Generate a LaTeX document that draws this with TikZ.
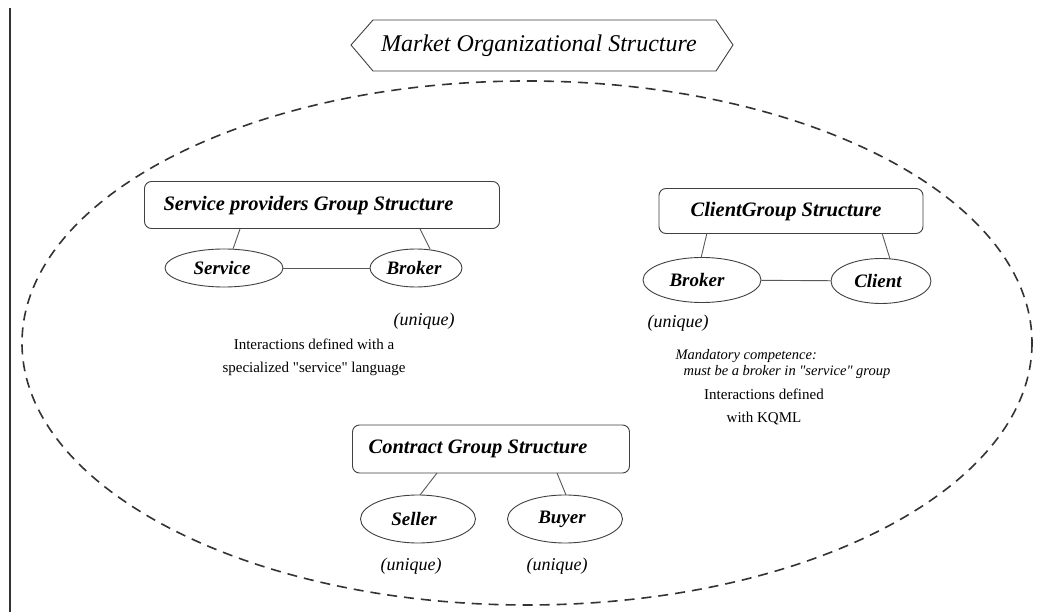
\documentclass[tikz,border=0pt]{standalone}
\usepackage{fontspec}
\setmainfont{Liberation Serif}
\usetikzlibrary{shapes.geometric}
\begin{document}
\begin{tikzpicture}[x=1pt,y=-1pt,
  grpbox/.style={draw=black!75,line width=0.9pt,rounded corners=7pt,fill=white,inner sep=0pt},
  role/.style={draw=black!75,line width=0.9pt,ellipse,inner sep=0pt,fill=white},
  link/.style={draw=black!65,line width=0.9pt},
  ttl/.style={font=\fontsize{20.5}{22}\selectfont\bfseries\itshape},
  rolet/.style={font=\fontsize{19}{21}\selectfont\bfseries\itshape},
  uniq/.style={font=\fontsize{18}{20}\selectfont\itshape},
  note/.style={font=\fontsize{15}{23}\selectfont},
  inote/.style={font=\fontsize{14.5}{16}\selectfont\itshape}]
\useasboundingbox (0,0) rectangle (1037,612);
\fill[white] (0,0) rectangle (1037,612);
% left rule
\draw[black!80,line width=2pt] (10,8) -- (10,612);
% dashed market ellipse
\draw[black!80,line width=1.6pt,dash pattern=on 10pt off 7pt] (527,343) ellipse [x radius=505, y radius=262];
% title hexagon
\draw[black!75,line width=0.9pt,fill=white] (351,45) -- (373,20) -- (716,20) -- (733,45) -- (716,71) -- (373,71) -- cycle;
\node[font=\fontsize{24}{26}\selectfont\itshape] (title) at (539,46) {Market Organizational Structure};
% service providers group
\node[grpbox,minimum width=355pt,minimum height=47pt] (spg) at (322,205) {};
\node[ttl,anchor=west] (spgt) at (160,206) {Service providers Group Structure};
\node[role,minimum width=118pt,minimum height=38pt] (service) at (224,268) {};
\node[rolet] (servicet) at (222,268) {Service};
\node[role,minimum width=92pt,minimum height=38pt] (broker1) at (416,268) {};
\node[rolet] (broker1t) at (414,268) {Broker};
\draw[link] (240,229) -- (233,249);
\draw[link] (420,229) -- (430,249);
\draw[link] (service) -- (broker1);
\node[uniq] (u1) at (424,321) {(unique)};
\node[note,align=center] (n1) at (314,357) {Interactions defined with a\\specialized \textquotedbl service\textquotedbl{} language};
% client group
\node[grpbox,minimum width=264pt,minimum height=45pt] (cg) at (791,211) {};
\node[ttl] (cgt) at (786,212) {ClientGroup Structure};
\node[role,minimum width=118pt,minimum height=45pt] (broker2) at (702,280) {};
\node[rolet] (broker2t) at (697,280) {Broker};
\node[role,minimum width=100pt,minimum height=45pt] (client) at (881,281) {};
\node[rolet] (clientt) at (878,281) {Client};
\draw[link] (707,233) -- (701,258);
\draw[link] (882,233) -- (890,259);
\draw[link] (broker2) -- (client);
\node[uniq] (u2) at (678,323) {(unique)};
\node[inote,anchor=west] (m1) at (672,356) {Mandatory competence:};
\node[inote,anchor=west] (m2) at (680,372) {must be a broker in \textquotedbl service\textquotedbl{} group};
\node[note,align=center] (n2) at (764,407) {Interactions defined\\with KQML};
% contract group
\node[grpbox,minimum width=277pt,minimum height=48pt] (ctg) at (491,449) {};
\node[ttl] (ctgt) at (478,449) {Contract Group Structure};
\node[role,minimum width=115pt,minimum height=48pt] (seller) at (418,519) {};
\node[rolet] (sellert) at (414,519) {Seller};
\node[role,minimum width=115pt,minimum height=48pt] (buyer) at (565,519) {};
\node[rolet] (buyert) at (562,519) {Buyer};
\draw[link] (437,473) -- (420,495);
\draw[link] (557,473) -- (566,495);
\node[uniq] (u3) at (411,566) {(unique)};
\node[uniq] (u4) at (557,566) {(unique)};
\end{tikzpicture}
\end{document}
